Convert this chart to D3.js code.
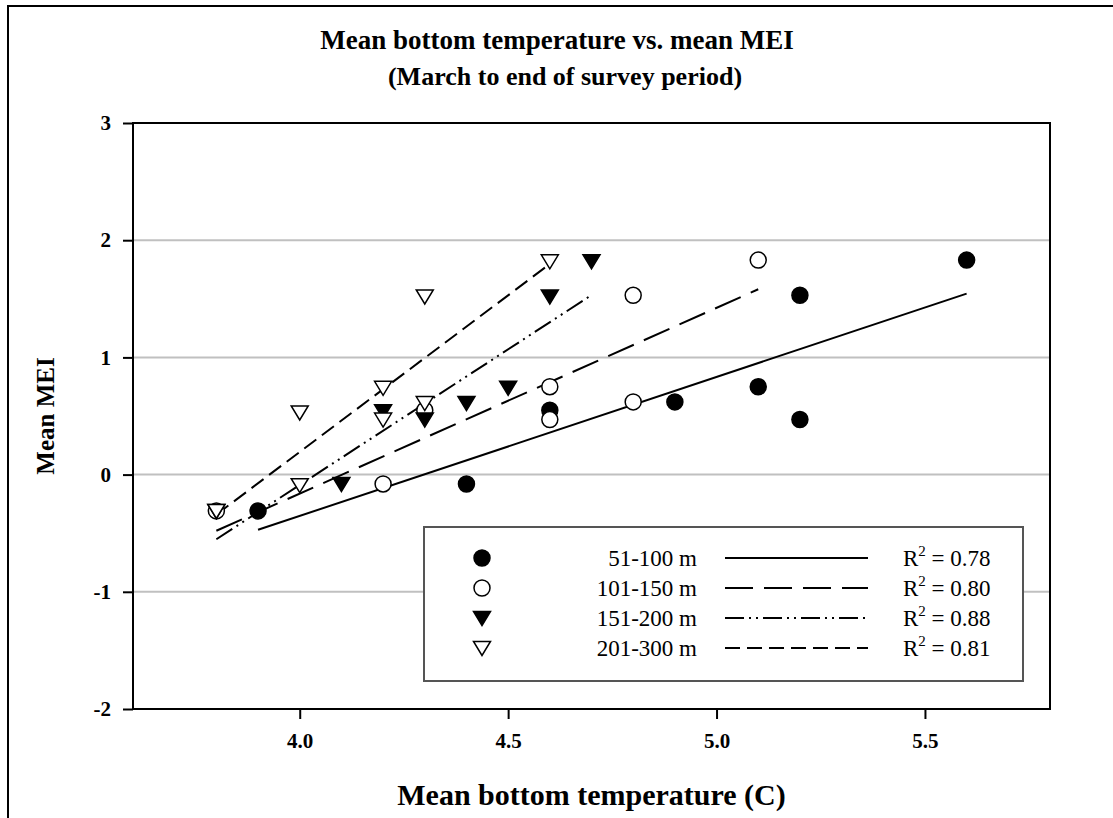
<!DOCTYPE html>
<html>
<head>
<meta charset="utf-8">
<script src="https://cdn.jsdelivr.net/npm/d3@7"></script>
<style>
body { margin: 0; background: #fff; }
svg { font-family: "Liberation Serif", "Times New Roman", serif; }
</style>
</head>
<body>
<script>
// data
const seriesNames = ['51-100 m', '101-150 m', '151-200 m', '201-300 m'];
const r2Labels = ['0.78', '0.80', '0.88', '0.81'];

const temp51 = [3.9, 4.4, 4.6, 4.9, 5.1, 5.2, 5.2, 5.6];
const mei51 = [-0.31, -0.08, 0.55, 0.62, 0.75, 0.47, 1.53, 1.83];

const temp101 = [3.8, 4.2, 4.3, 4.6, 4.6, 4.8, 4.8, 5.1];
const mei101 = [-0.31, -0.08, 0.55, 0.47, 0.75, 0.62, 1.53, 1.83];

const temp151 = [3.8, 4.1, 4.2, 4.3, 4.4, 4.5, 4.6, 4.7];
const mei151 = [-0.31, -0.08, 0.54, 0.47, 0.61, 0.74, 1.52, 1.82];

const temp201 = [3.8, 4.0, 4.0, 4.2, 4.2, 4.3, 4.3, 4.6];
const mei201 = [-0.31, -0.09, 0.53, 0.74, 0.47, 0.61, 1.52, 1.82];

const xTicks = [4.0, 4.5, 5.0, 5.5];
const yTicks = [-2, -1, 0, 1, 2, 3];

const series = [
    {name: seriesNames[0], x: temp51, y: mei51, sym: 'circle', fill: '#000', dash: null, r2: r2Labels[0]},
    {name: seriesNames[1], x: temp101, y: mei101, sym: 'circle', fill: '#fff', dash: '28,11', r2: r2Labels[1]},
    {name: seriesNames[2], x: temp151, y: mei151, sym: 'tri', fill: '#000', dash: '19,5,2,5,2,5', r2: r2Labels[2]},
    {name: seriesNames[3], x: temp201, y: mei201, sym: 'tri', fill: '#fff', dash: '15,7', r2: r2Labels[3]}
];

const W = 1113, H = 818;
const margin = {left: 133, right: 63, top: 123, bottom: 109};

const svg = d3.select(document.body)
    .append('svg')
    .attr('width', W)
    .attr('height', H);

// outer frame (runs off the page right and bottom)
svg.append('rect')
    .attr('x', 8).attr('y', 6)
    .attr('width', W + 20).attr('height', H + 20)
    .attr('fill', 'none')
    .attr('stroke', '#000')
    .attr('stroke-width', 2);

const xScale = d3.scaleLinear().domain([3.6, 5.8]).range([margin.left, W - margin.right]);
const yScale = d3.scaleLinear().domain([-2, 3]).range([H - margin.bottom, margin.top]);

// grid
svg.append('g')
    .selectAll('line')
    .data([-1, 0, 1, 2])
    .enter()
    .append('line')
    .attr('x1', xScale(3.6)).attr('x2', xScale(5.8))
    .attr('y1', d => yScale(d)).attr('y2', d => yScale(d))
    .attr('stroke', '#c0c0c0')
    .attr('stroke-width', 2);

// regression
function fit(xs, ys) {
    const mx = d3.mean(xs), my = d3.mean(ys);
    let sxy = 0, sxx = 0;
    xs.forEach((x, i) => { sxy += (x - mx) * (ys[i] - my); sxx += (x - mx) * (x - mx); });
    const b = sxy / sxx;
    const a = my - b * mx;
    const x0 = d3.min(xs), x1 = d3.max(xs);
    return [{x: x0, y: a + b * x0}, {x: x1, y: a + b * x1}];
}

const line = d3.line().x(d => xScale(d.x)).y(d => yScale(d.y));

const fitG = svg.append('g').attr('class', 'fits');
series.forEach(s => {
    fitG.append('path')
        .attr('d', line(fit(s.x, s.y)))
        .attr('fill', 'none')
        .attr('stroke', '#000')
        .attr('stroke-width', 2)
        .attr('stroke-dasharray', s.dash);
});

// symbols
const triPath = 'M-8.5,-6.5L8.5,-6.5L0,7.5Z';
function drawSymbol(g, s, cx, cy) {
    if (s.sym === 'circle') {
        g.append('circle')
            .attr('cx', cx).attr('cy', cy).attr('r', 8)
            .attr('fill', s.fill)
            .attr('stroke', '#000')
            .attr('stroke-width', 1.5);
    } else {
        g.append('path')
            .attr('d', triPath)
            .attr('transform', `translate(${cx},${cy})`)
            .attr('fill', s.fill)
            .attr('stroke', '#000')
            .attr('stroke-width', 1.5);
    }
}

const ptG = svg.append('g').attr('class', 'points');
series.forEach(s => {
    s.x.forEach((x, i) => drawSymbol(ptG, s, xScale(x), yScale(s.y[i])));
});

// frame
svg.append('rect')
    .attr('x', xScale(3.6)).attr('y', yScale(3))
    .attr('width', xScale(5.8) - xScale(3.6))
    .attr('height', yScale(-2) - yScale(3))
    .attr('fill', 'none')
    .attr('stroke', '#000')
    .attr('stroke-width', 2);

// axes
const xAxis = d3.axisBottom(xScale).tickValues(xTicks).tickFormat(d3.format('.1f')).tickSize(10).tickPadding(14);
const gx = svg.append('g')
    .attr('transform', `translate(0,${yScale(-2)})`)
    .call(xAxis);
gx.select('.domain').remove();

const yAxis = d3.axisLeft(yScale).tickValues(yTicks).tickFormat(d => String(d)).tickSize(10).tickPadding(12);
const gy = svg.append('g')
    .attr('transform', `translate(${xScale(3.6)},0)`)
    .call(yAxis);
gy.select('.domain').remove();

svg.selectAll('.tick line').attr('stroke', '#000').attr('stroke-width', 2);
svg.selectAll('.tick text')
    .attr('fill', '#000')
    .style('font-family', '"Liberation Serif", "Times New Roman", serif')
    .style('font-size', '21px')
    .style('font-weight', 'bold');

// titles
svg.append('text')
    .attr('x', 557).attr('y', 49)
    .attr('text-anchor', 'middle')
    .style('font-size', '27px').style('font-weight', 'bold')
    .text('Mean bottom temperature vs. mean MEI');
svg.append('text')
    .attr('x', 565).attr('y', 85)
    .attr('text-anchor', 'middle')
    .style('font-size', '26px').style('font-weight', 'bold')
    .text('(March to end of survey period)');

svg.append('text')
    .attr('x', (xScale(3.6) + xScale(5.8)) / 2).attr('y', 805)
    .attr('text-anchor', 'middle')
    .style('font-size', '30px').style('font-weight', 'bold')
    .text('Mean bottom temperature (C)');

svg.append('text')
    .attr('transform', `translate(54,${(yScale(3) + yScale(-2)) / 2}) rotate(-90)`)
    .attr('text-anchor', 'middle')
    .style('font-size', '25px').style('font-weight', 'bold')
    .text('Mean MEI');

// legend
const leg = svg.append('g').attr('class', 'legend');
leg.append('rect')
    .attr('x', 424).attr('y', 527)
    .attr('width', 599).attr('height', 154)
    .attr('fill', '#fff')
    .attr('stroke', '#555')
    .attr('stroke-width', 2);

series.forEach((s, i) => {
    const cy = 558 + i * 30;
    drawSymbol(leg, s, 482, cy);
    leg.append('text')
        .attr('x', 697).attr('y', cy + 8)
        .attr('text-anchor', 'end')
        .style('font-size', '23px')
        .text(s.name);
    leg.append('line')
        .attr('x1', 725).attr('x2', 868)
        .attr('y1', cy).attr('y2', cy)
        .attr('stroke', '#000')
        .attr('stroke-width', 2)
        .attr('stroke-dasharray', s.dash);
    const t = leg.append('text')
        .attr('x', 903).attr('y', cy + 8)
        .style('font-size', '23px');
    t.append('tspan').text('R');
    t.append('tspan').attr('dy', -10).style('font-size', '15px').text('2');
    t.append('tspan').attr('dy', 10).text(' = ' + s.r2);
});
</script>
</body>
</html>
